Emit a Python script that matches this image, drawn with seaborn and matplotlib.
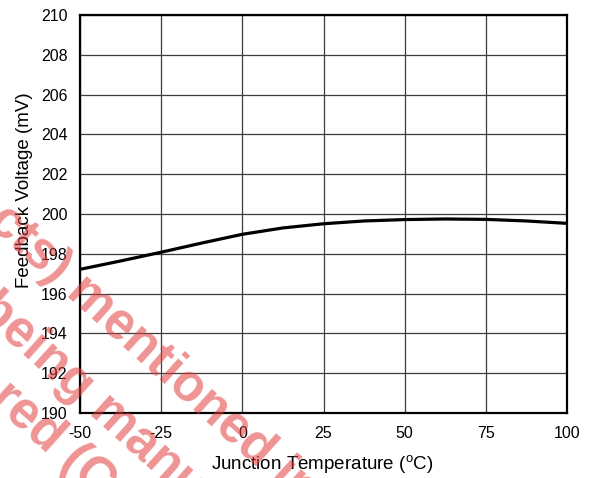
import numpy as np
import pandas as pd
import matplotlib
matplotlib.use("Agg")
import matplotlib.pyplot as plt
import seaborn as sns

# ------------------------------------------------------------
# Données
# ------------------------------------------------------------
temp = [-50, -37.5, -25, -12.5, 0, 12.5, 25, 37.5, 50, 62.5, 75, 87.5, 100]
vfb = [197.22, 197.64, 198.08, 198.54, 198.98, 199.3, 199.51, 199.65, 199.72, 199.75, 199.73, 199.65, 199.53]

x_ticks = [-50, -25, 0, 25, 50, 75, 100]
y_ticks = [190, 192, 194, 196, 198, 200, 202, 204, 206, 208, 210]

watermark = ["cts) mentioned in this document", "being manufactured", "red (Customer"]

df = pd.DataFrame({"temp": temp, "vfb": vfb})

sns.set_theme(style="white")
plt.rcParams["font.family"] = ["Liberation Sans", "DejaVu Sans"]
plt.rcParams["mathtext.default"] = "regular"
plt.rcParams["axes.unicode_minus"] = False

fig, ax = plt.subplots(figsize=(5.89, 4.78), dpi=100)
fig.subplots_adjust(left=80 / 589, right=567 / 589, top=1 - 15 / 478, bottom=1 - 413 / 478)

sns.lineplot(data=df, x="temp", y="vfb", color="black", linewidth=2.3, ax=ax)

ax.set_xlim(-50, 100)
ax.set_ylim(190, 210)
ax.set_xticks(x_ticks)
ax.set_yticks(y_ticks)
ax.tick_params(axis="both", labelsize=11.5, length=0, pad=9, colors="black")
ax.grid(True, color="#3c3c3c", linewidth=0.9)
for s in ax.spines.values():
    s.set_color("black")
    s.set_linewidth(1.6)

ax.set_xlabel(r"Junction Temperature ($^{o}$C)", fontsize=13.5, color="black")
ax.set_ylabel("Feedback Voltage (mV)", fontsize=13.5, color="black")
ax.xaxis.set_label_coords(0.497, -0.1)
ax.yaxis.set_label_coords(-0.097, 0.56)

# filigrane rouge en diagonale
starts = [(-14, 224), (-25, 312), (-12, 401)]
for txt, (px, py) in zip(watermark, starts):
    fig.text(px / 589, 1 - py / 478, txt, rotation=-42, rotation_mode="anchor",
             ha="left", va="baseline", fontsize=37, fontweight="bold",
             color="#e23b3b", alpha=0.55)

fig.savefig("out.png", dpi=100)
